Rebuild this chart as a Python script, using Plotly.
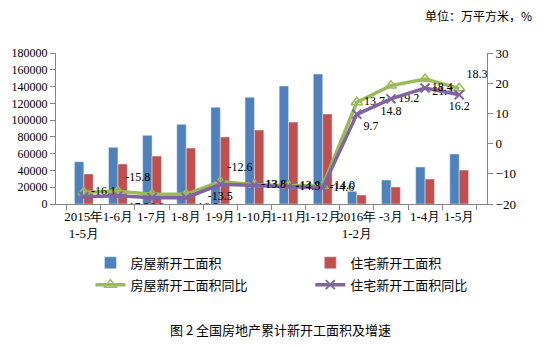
import plotly.graph_objects as go

categories = ["2015年<br>1-5月", "1-6月", "1-7月", "1-8月", "1-9月", "1-10月", "1-11月", "1-12月",
              "2016年<br>1-2月", "-3月", "1-4月", "1-5月"]
house_area = [50400, 67600, 81900, 95000, 115300, 127200, 140700, 155000, 15100, 28600, 44100, 59600]
resid_area = [35800, 47700, 57200, 66700, 79900, 88200, 97700, 107300, 10700, 20300, 29800, 40500]
house_yoy = [-16.1, -15.8, -16.8, -16.8, -12.6, -13.6, -13.9, -14.0, 13.7, 19.2, 21.4, 18.3]
resid_yoy = [-17.6, -17.3, -17.9, -17.9, -13.5, -13.8, -14.3, -14.6, 9.7, 14.8, 18.4, 16.2]

serif = "Liberation Serif, Times New Roman, serif"
cjk = "Noto Sans CJK SC, sans-serif"

green_pos = ["middle right", "top right", "bottom center", "bottom right", "top right", "middle right",
             "middle right", "middle right", "middle right", "bottom right", "bottom right", "top right"]
purple_pos = ["bottom right", "bottom right", "bottom right", "bottom right", "bottom center", "middle right",
              "middle right", "middle right", "bottom right", "bottom center", "middle right", "bottom center"]

fig = go.Figure()
fig.add_trace(go.Bar(x=categories, y=house_area, name="房屋新开工面积", marker_color="#4F81BD",
                     legend="legend", legendgroup="a"))
fig.add_trace(go.Bar(x=categories, y=resid_area, name="住宅新开工面积", marker_color="#C0504D",
                     legend="legend2", legendgroup="c"))
fig.add_trace(go.Scatter(x=categories, y=house_yoy, name="房屋新开工面积同比", yaxis="y2",
                         legend="legend", legendgroup="b",
                         mode="lines+markers+text", text=[str(v) for v in house_yoy],
                         textposition=green_pos, textfont=dict(family=serif, size=12, color="#000"),
                         line=dict(color="#9BBB59", width=3.5),
                         marker=dict(symbol="triangle-up-open", size=10, color="#9BBB59",
                                     line=dict(width=1.5, color="#9BBB59"))))
fig.add_trace(go.Scatter(x=categories, y=resid_yoy, name="住宅新开工面积同比", yaxis="y2",
                         legend="legend2", legendgroup="d",
                         mode="lines+markers+text", text=[str(v) for v in resid_yoy],
                         textposition=purple_pos, textfont=dict(family=serif, size=12, color="#000"),
                         line=dict(color="#8064A2", width=3.5),
                         marker=dict(symbol="x-thin-open", size=9, color="#8064A2",
                                     line=dict(width=2, color="#8064A2"))))

legend_common = dict(orientation="v", yanchor="top", xanchor="left", itemwidth=30,
                     font=dict(family=cjk, size=13), tracegroupgap=2,
                     bgcolor="rgba(0,0,0,0)")

fig.update_layout(
    width=549, height=347,
    margin=dict(l=48, r=62, t=53, b=143),
    paper_bgcolor="white", plot_bgcolor="white",
    barmode="group", bargap=0.45, bargroupgap=0,
    font=dict(family=serif, size=12, color="#000"),
    xaxis=dict(type="category", showline=True, linecolor="#868686", ticks="outside",
               tickson="boundaries", ticklen=5, tickcolor="#868686",
               tickfont=dict(family=serif, size=13), tickangle=0),
    yaxis=dict(range=[0, 180000], dtick=20000, tickformat="d", showgrid=False, showline=True,
               linecolor="#868686", ticks="outside", ticklen=5, tickcolor="#868686", zeroline=False,
               tickfont=dict(family=serif, size=12)),
    yaxis2=dict(range=[-20, 30], dtick=10, overlaying="y", side="right", showgrid=False,
                showline=True, linecolor="#868686", ticks="outside", ticklen=5, tickcolor="#868686",
                zeroline=False, tickfont=dict(family=serif, size=13)),
    legend=dict(x=0.08, y=-0.29, **legend_common),
    legend2=dict(x=0.59, y=-0.29, **legend_common),
    showlegend=True,
)
fig.add_annotation(text="单位：万平方米，%", xref="paper", yref="paper", x=1.11, y=1.25,
                   xanchor="right", yanchor="middle", showarrow=False,
                   font=dict(family=cjk, size=12, color="#000"))
fig.add_annotation(text="图 2 全国房地产累计新开工面积及增速", xref="paper", yref="paper",
                   x=0.52, y=-0.834, xanchor="center", yanchor="middle", showarrow=False,
                   font=dict(family=cjk, size=13, color="#000"))
fig.write_html("out.html")
